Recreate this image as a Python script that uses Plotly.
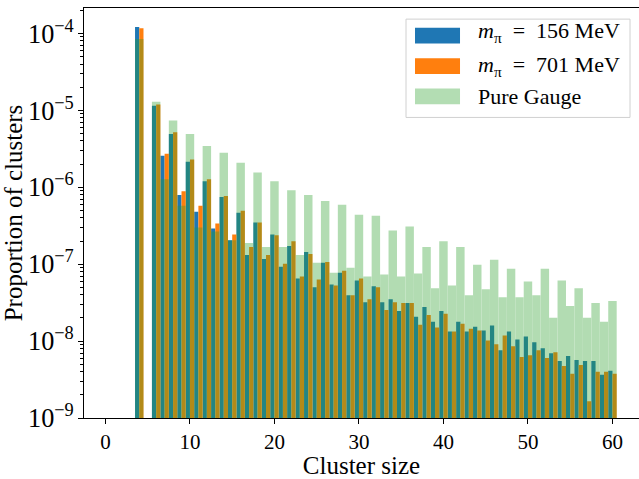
import plotly.graph_objects as go

cluster_size = [4] + list(range(6, 61))

m156 = [1.21e-4, 1.15e-5, 2.57e-6, 4.91e-6, 7.93e-7, 2.15e-6, 4.81e-7, 1.2e-6, 2.92e-7, 7.48e-7,
        2.05e-7, 4.67e-7, 1.32e-7, 3.48e-7, 1.17e-7, 2.44e-7, 9.27e-8, 1.72e-7, 6.51e-8, 1.44e-7,
        5.0e-8, 1.04e-7, 5.46e-8, 7.76e-8, 3.95e-8, 6.14e-8, 3.21e-8, 5.15e-8, 3.21e-8, 3.51e-8,
        2.47e-8, 3.12e-8, 2.07e-8, 2.77e-8, 1.79e-8, 2.47e-8, 1.33e-8, 1.79e-8, 1.33e-8, 1.54e-8,
        1.37e-8, 1.59e-8, 7.6e-9, 1.33e-8, 1.05e-8, 1.15e-8, 9.63e-9, 8.07e-9, 6.97e-9, 5.5e-9,
        6.38e-9, 5.67e-9, 5.5e-9, 5.5e-9, 3.65e-9, 4.1e-9]

m701 = [1.17e-4, 1.19e-5, 2.73e-6, 5.2e-6, 8.9e-7, 2.29e-6, 5.74e-7, 1.27e-6, 3.38e-7, 7.7e-7,
        2.44e-7, 4.95e-7, 1.67e-7, 3.48e-7, 1.32e-7, 2.37e-7, 1.01e-7, 1.99e-7, 6.9e-8, 1.36e-7,
        6.32e-8, 1.07e-7, 5.3e-8, 8.24e-8, 3.95e-8, 6.51e-8, 3.51e-8, 5.0e-8, 2.54e-8, 3.21e-8,
        3.12e-8, 3.12e-8, 1.63e-8, 2.19e-8, 1.5e-8, 2.26e-8, 1.33e-8, 1.68e-8, 1.45e-8, 1.37e-8,
        1.02e-8, 9.08e-9, 1.18e-8, 8.55e-9, 6.19e-9, 6.56e-9, 7.6e-9, 6.01e-9, 7.17e-9, 4.75e-9,
        3.76e-9, 4.9e-9, 1.65e-9, 3.98e-9, 3.98e-9, 3.76e-9]

pure_gauge = [8.5e-5, 1.29e-5, 1.27e-6, 7.41e-6, 5.74e-7, 4.91e-6, 3.0e-7, 3.45e-6, 2.67e-7, 2.81e-6,
              2.05e-7, 2.09e-6, 1.88e-7, 1.56e-6, 1.67e-7, 1.2e-6, 1.67e-7, 9.18e-7, 1.32e-7, 7.93e-7,
              1.04e-7, 6.64e-7, 7.76e-8, 5.91e-7, 9.0e-8, 4.4e-7, 6.9e-8, 4.27e-7, 7.32e-8, 2.75e-7,
              6.9e-8, 3.09e-7, 7.54e-8, 1.67e-7, 4.85e-8, 1.99e-7, 5.3e-8, 1.67e-7, 3.95e-8, 9.83e-8,
              4.71e-8, 1.14e-7, 3.72e-8, 8.74e-8, 3.72e-8, 5.96e-8, 3.95e-8, 8.74e-8, 2.01e-8, 6.14e-8,
              2.86e-8, 4.85e-8, 2.01e-8, 3.12e-8, 1.79e-8, 3.31e-8]

x_ticks = [0, 10, 20, 30, 40, 50, 60]

series_names = ["<i>m</i><sub>π</sub>\u2002=\u2002156 MeV",
                "<i>m</i><sub>π</sub>\u2002=\u2002701 MeV",
                "Pure Gauge"]
series_colors = ["#1f77b4", "#ff7f0e", "#2ca02c"]
green_alpha = 0.36

font_family = "Liberation Serif"

fig = go.Figure()
fig.add_trace(go.Bar(x=cluster_size, y=m156, offset=-0.5, width=0.5,
                     marker=dict(color=series_colors[0], line=dict(width=0)),
                     name=series_names[0], showlegend=False))
fig.add_trace(go.Bar(x=cluster_size, y=m701, offset=0.0, width=0.5,
                     marker=dict(color=series_colors[1], line=dict(width=0)),
                     name=series_names[1], showlegend=False))
fig.add_trace(go.Bar(x=cluster_size, y=pure_gauge, offset=-0.5, width=1.0,
                     marker=dict(color=series_colors[2], line=dict(width=0)), opacity=green_alpha,
                     name=series_names[2], showlegend=False))

# Legend drawn in matplotlib style (wide swatches, framed box)
shapes = [dict(type="rect", xref="paper", yref="paper", x0=0.5802, x1=0.9838, y0=0.7331, y1=0.9729,
               line=dict(color="#d0d0d0", width=1), fillcolor="rgba(255,255,255,0.8)", layer="above")]
annotations = []
rows = [(0.9137, 0.952, 0.9424), (0.8393, 0.8777, 0.8585), (0.765, 0.8034, 0.7842)]
for i, (y0, y1, yc) in enumerate(rows):
    op = green_alpha if i == 2 else 1.0
    shapes.append(dict(type="rect", xref="paper", yref="paper", x0=0.5964, x1=0.6775, y0=y0, y1=y1,
                       line=dict(width=0), fillcolor=series_colors[i], opacity=op, layer="above"))
    annotations.append(dict(xref="paper", yref="paper", x=0.706, y=yc, xanchor="left", yanchor="middle",
                            text=series_names[i], showarrow=False, font=dict(size=22)))

fig.update_layout(
    width=639, height=479,
    barmode="overlay",
    plot_bgcolor="white", paper_bgcolor="white",
    margin=dict(l=84, r=0, t=8, b=54),
    font=dict(family=font_family, size=21, color="black"),
    showlegend=False,
    shapes=shapes, annotations=annotations,
    xaxis=dict(range=[-2.54, 63.14], tickvals=x_ticks, ticktext=[str(v) for v in x_ticks],
               showline=True, linecolor="black", linewidth=1, mirror=True,
               ticks="outside", ticklen=5, tickcolor="black", showgrid=False, zeroline=False,
               title=dict(text="Cluster size", standoff=7)),
    yaxis=dict(type="log", range=[-9, -3.669], dtick=1, exponentformat="power",
               showline=True, linecolor="black", linewidth=1,
               ticks="outside", ticklen=5, tickcolor="black", showgrid=False, zeroline=False,
               minor=dict(ticks="outside", ticklen=3, tickcolor="black", dtick="D1", showgrid=False),
               title=dict(text="Proportion of clusters", standoff=6)),
)

fig.write_html("out.html")
